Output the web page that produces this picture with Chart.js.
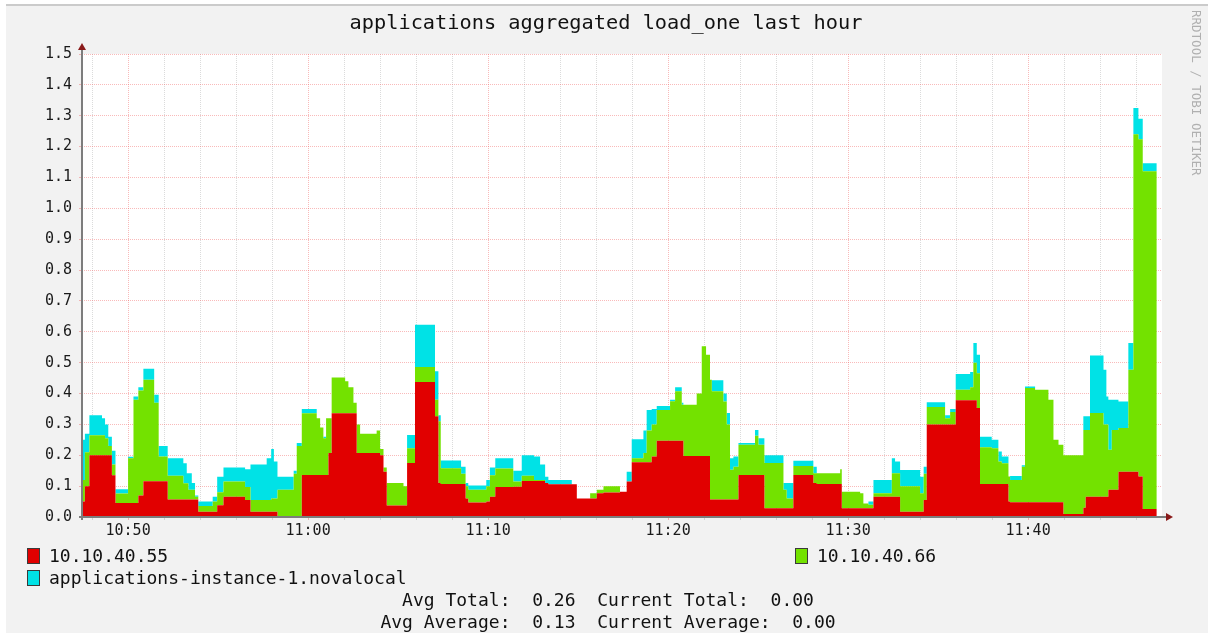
<!DOCTYPE html>
<html>
<head>
<meta charset="utf-8">
<script src="https://cdn.jsdelivr.net/npm/chart.js"></script>
<style>
html,body{margin:0;padding:0;background:#ffffff;width:1208px;height:633px;overflow:hidden}
#frame{position:absolute;left:6px;top:4px;width:1202px;height:629px;background:#f2f2f2;border-top:2px solid #cbcbcb;box-sizing:border-box}
#c{position:absolute;left:0;top:0}
.t{position:absolute;font-family:"DejaVu Sans Mono",monospace;color:#000;white-space:pre}
.box{position:absolute;width:11px;height:14px;border:1px solid #3a3a3a}
</style>
</head>
<body>
<div id="frame"></div>
<canvas id="c" width="1208" height="633"></canvas>
<div class="t" id="title" style="left:0;width:1212px;text-align:center;top:10px;font-size:20.3px;line-height:24px;color:#111">applications aggregated load_one last hour</div>
<div class="t" id="wm" style="left:1189px;top:10px;font-size:12.5px;color:#b0b0b0;writing-mode:vertical-rl">RRDTOOL / TOBI OETIKER</div>
<div id="legend"></div>
<div class="t" id="stat1" style="left:0;width:1216px;text-align:center;top:590px;font-size:18px;line-height:20px;color:#111"></div>
<div class="t" id="stat2" style="left:0;width:1216px;text-align:center;top:612px;font-size:18px;line-height:20px;color:#111"></div>
<script>
// ---- data (minutes after 10:00; each value holds until the next time) ----
const minutes = [47.44,47.6,47.85,48.55,48.72,48.9,49.1,49.3,50.0,50.3,50.57,50.85,51.45,51.7,52.2,53.07,53.26,53.35,53.54,53.72,53.9,54.7,54.95,55.3,56.5,56.8,57.7,57.95,58.1,58.3,59.2,59.37,59.65,60.48,60.67,60.85,61.0,61.13,61.31,62.06,62.24,62.52,62.7,62.89,63.81,64.0,64.19,64.37,65.3,65.5,65.94,67.05,67.24,67.37,68.5,68.75,68.9,69.9,70.1,70.4,71.4,71.87,72.55,72.89,73.17,73.35,74.65,74.93,75.67,76.04,76.41,77.33,77.7,77.98,78.63,78.81,79.09,79.37,80.11,80.39,80.76,80.85,81.59,81.87,82.11,82.33,82.43,83.07,83.26,83.44,83.63,83.91,84.83,85.02,85.35,86.41,86.59,86.96,88.07,88.26,89.56,89.65,90.67,90.85,91.13,91.41,92.43,92.61,92.89,94.0,94.2,94.37,95.39,95.67,95.98,96.78,96.96,97.15,97.33,97.98,98.35,98.54,98.91,99.0,99.65,99.83,100.39,101.13,101.41,101.69,101.96,103.07,103.2,103.44,104.19,104.35,104.46,104.65,105.02,105.57,105.85,106.13,106.37,107.15];
const host55 = [0.05,0.10,0.20,0.20,0.20,0.20,0.135,0.045,0.045,0.045,0.07,0.116,0.116,0.116,0.057,0.057,0.057,0.057,0.057,0.057,0.017,0.017,0.038,0.066,0.055,0.017,0.017,0.017,0.017,0,0,0,0.136,0.136,0.136,0.136,0.136,0.207,0.336,0.336,0.336,0.336,0.207,0.207,0.207,0.2,0.147,0.037,0.037,0.175,0.437,0.326,0.11,0.107,0.107,0.06,0.047,0.05,0.066,0.097,0.098,0.117,0.117,0.117,0.11,0.106,0.106,0.06,0.06,0.077,0.079,0.082,0.115,0.177,0.177,0.177,0.196,0.247,0.247,0.247,0.247,0.198,0.198,0.198,0.198,0.057,0.057,0.057,0.057,0.057,0.057,0.136,0.136,0.136,0.028,0.028,0.028,0.136,0.11,0.107,0.107,0.028,0.028,0.028,0.028,0.066,0.066,0.066,0.017,0.017,0.055,0.3,0.3,0.3,0.378,0.378,0.378,0.353,0.107,0.107,0.107,0.107,0.05,0.048,0.048,0.048,0.048,0.048,0.048,0.048,0.01,0.03,0.066,0.066,0.066,0.066,0.088,0.088,0.147,0.147,0.147,0.131,0.026,0.026];
const host66 = [0.07,0.11,0.065,0.065,0.055,0.03,0.035,0.031,0.145,0.335,0.34,0.329,0.254,0.08,0.077,0.052,0.052,0.031,0.031,0.009,0.019,0.033,0.042,0.049,0.042,0.038,0.038,0.043,0.043,0.088,0.14,0.23,0.2,0.184,0.154,0.119,0.184,0.113,0.116,0.104,0.084,0.034,0.093,0.063,0.073,0.02,0.013,0.073,0.063,0.048,0.049,0.054,0.2,0.051,0.033,0.04,0.041,0.05,0.069,0.06,0.017,0.017,0.003,0.003,0,0,0,0,0.017,0.011,0.021,0,0,0.013,0.03,0.103,0.104,0.1,0.128,0.16,0.117,0.166,0.202,0.355,0.328,0.388,0.35,0.317,0.243,0.096,0.106,0.098,0.127,0.098,0.147,0.06,0.032,0.029,0.032,0.035,0.048,0.054,0.049,0.016,0.012,0.011,0.076,0.076,0.083,0.06,0.085,0.056,0.02,0.04,0.034,0.042,0.122,0.113,0.119,0.116,0.073,0.067,0.081,0.072,0.115,0.37,0.364,0.332,0.202,0.186,0.19,0.252,0.216,0.271,0.234,0.234,0.13,0.194,0.141,0.33,1.093,1.093,1.094,1.094];
const instance1 = [0.13,0.06,0.065,0.055,0.045,0.03,0.045,0.014,0.005,0.01,0.01,0.035,0.026,0.034,0.056,0.065,0.033,0.054,0.022,0.004,0.014,0.016,0.05,0.045,0.058,0.115,0.135,0.16,0.12,0.042,0.01,0.01,0.014,0,0,0.005,0,0,0,0,0,0,0,0,0,0,0,0,0,0.043,0.137,0.092,0.02,0.025,0.023,0.01,0.014,0.02,0.025,0.033,0.035,0.066,0.076,0.05,0.02,0.014,0,0,0,0,0,0,0.032,0.062,0.073,0.067,0.05,0.013,0.005,0.013,0.006,0,0,0,0,0,0.036,0.026,0.037,0.037,0.033,0.006,0.019,0.021,0.025,0.022,0.05,0.017,0.021,0,0,0,0,0,0.01,0.043,0.048,0.038,0.052,0.053,0.023,0.016,0.01,0.01,0.051,0.05,0.064,0.06,0.034,0.027,0.032,0.022,0,0.013,0.005,0.005,0,0,0,0,0,0.044,0.044,0.186,0.177,0.09,0.162,0.098,0.086,0.087,0.085,0.066,0.026,0.026];
const seriesNames = ['10.10.40.55','10.10.40.66','applications-instance-1.novalocal'];
const seriesColors = ['#e10000','#73e200','#00e2e6'];
const xTickValues = [50,60,70,80,90,100];
const xTickLabels = ['10:50','11:00','11:10','11:20','11:30','11:40'];
const yTickValues = [0,0.1,0.2,0.3,0.4,0.5,0.6,0.7,0.8,0.9,1.0,1.1,1.2,1.3,1.4,1.5];
const statLines = ['Avg Total:  0.26  Current Total:  0.00','Avg Average:  0.13  Current Average:  0.00'];

// ---- legend & stats as real text ----
const legendPos = [[27,49,547],[795,817,547],[27,49,569]];
const lg = document.getElementById('legend');
seriesNames.forEach((n,i)=>{
  const [bx,tx,ty] = legendPos[i];
  const b = document.createElement('div'); b.className='box';
  b.style.left=bx+'px'; b.style.top=(ty+1)+'px'; b.style.background=seriesColors[i];
  lg.appendChild(b);
  const t = document.createElement('div'); t.className='t';
  t.style.left=tx+'px'; t.style.top=(ty-1)+'px'; t.style.fontSize='18px'; t.style.lineHeight='20px'; t.style.color='#111';
  t.textContent=n; lg.appendChild(t);
});
document.getElementById('stat1').textContent=statLines[0];
document.getElementById('stat2').textContent=statLines[1];

const mk = arr => minutes.map((m,i)=>({x:m,y:arr[i]}));
const MAJOR = 'rgba(240,90,90,0.42)';
const MINOR = 'rgba(170,170,170,0.42)';

const rrdPlugin = {
  id:'rrd',
  beforeDraw(chart){
    const {ctx, chartArea:a} = chart;
    ctx.save();
    ctx.fillStyle='#ffffff';
    ctx.fillRect(a.left,a.top,a.right-a.left,a.bottom-a.top);
    ctx.restore();
  },
  afterDraw(chart){
    const {ctx, chartArea:a} = chart;
    ctx.save();
    ctx.fillStyle='#7d7d7d';
    ctx.fillRect(a.left-1, a.top-6, 2, a.bottom-a.top+9);
    ctx.fillRect(a.left-3, a.bottom-1, a.right-a.left+10, 2);
    ctx.fillStyle='#8a1a1a';
    ctx.beginPath();
    ctx.moveTo(a.left, a.top-11); ctx.lineTo(a.left-4, a.top-4); ctx.lineTo(a.left+4, a.top-4); ctx.closePath(); ctx.fill();
    const ex = a.right+4;
    ctx.beginPath();
    ctx.moveTo(ex+7, a.bottom); ctx.lineTo(ex, a.bottom-4); ctx.lineTo(ex, a.bottom+4); ctx.closePath(); ctx.fill();
    ctx.restore();
  }
};

const fontTick = {family:'DejaVu Sans Mono', size:15};

new Chart(document.getElementById('c'), {
  type:'line',
  data:{
    datasets: seriesNames.map((n,i)=>({
      label:n,
      data: mk([host55,host66,instance1][i]),
      stepped:true,
      fill: i===0 ? 'origin' : '-1',
      backgroundColor: seriesColors[i],
      borderColor: seriesColors[i],
      borderWidth:0,
      pointRadius:0,
      pointHoverRadius:0
    }))
  },
  options:{
    responsive:false,
    animation:false,
    devicePixelRatio:1,
    events:[],
    layout:{padding:{top:54,right:46,left:0,bottom:0}},
    plugins:{legend:{display:false},title:{display:false},tooltip:{enabled:false}},
    scales:{
      x:{
        type:'linear',
        min:47.44, max:107.44,
        afterBuildTicks(scale){
          const t=[]; for(let v=48; v<=106; v+=2) t.push({value:v});
          scale.ticks=t;
        },
        afterFit(scale){ scale.height=116; },
        ticks:{
          autoSkip:false, maxRotation:0, padding:2, color:'#1a1a1a', font:fontTick,
          callback(v){ const k=xTickValues.indexOf(v); return k>=0 ? xTickLabels[k] : ''; }
        },
        grid:{
          color(ctx){ return ctx.tick && ctx.tick.value%10===0 ? MAJOR : MINOR; },
          tickColor(ctx){ return ctx.tick && ctx.tick.value%10===0 ? MAJOR : MINOR; },
          lineWidth:1, drawTicks:true, tickLength:3
        },
        border:{display:false, dash:[1,1]}
      },
      y:{
        stacked:true,
        min:0, max:1.5,
        afterBuildTicks(scale){ scale.ticks=yTickValues.map(v=>({value:v})); },
        afterFit(scale){ scale.width=82; },
        ticks:{ padding:7, color:'#1a1a1a', font:fontTick, callback(v){ return Number(v).toFixed(1); } },
        grid:{ color:MAJOR, tickColor:MAJOR, lineWidth:1, drawTicks:true, tickLength:3 },
        border:{display:false, dash:[1,1]}
      }
    }
  },
  plugins:[rrdPlugin]
});
</script>
</body>
</html>
